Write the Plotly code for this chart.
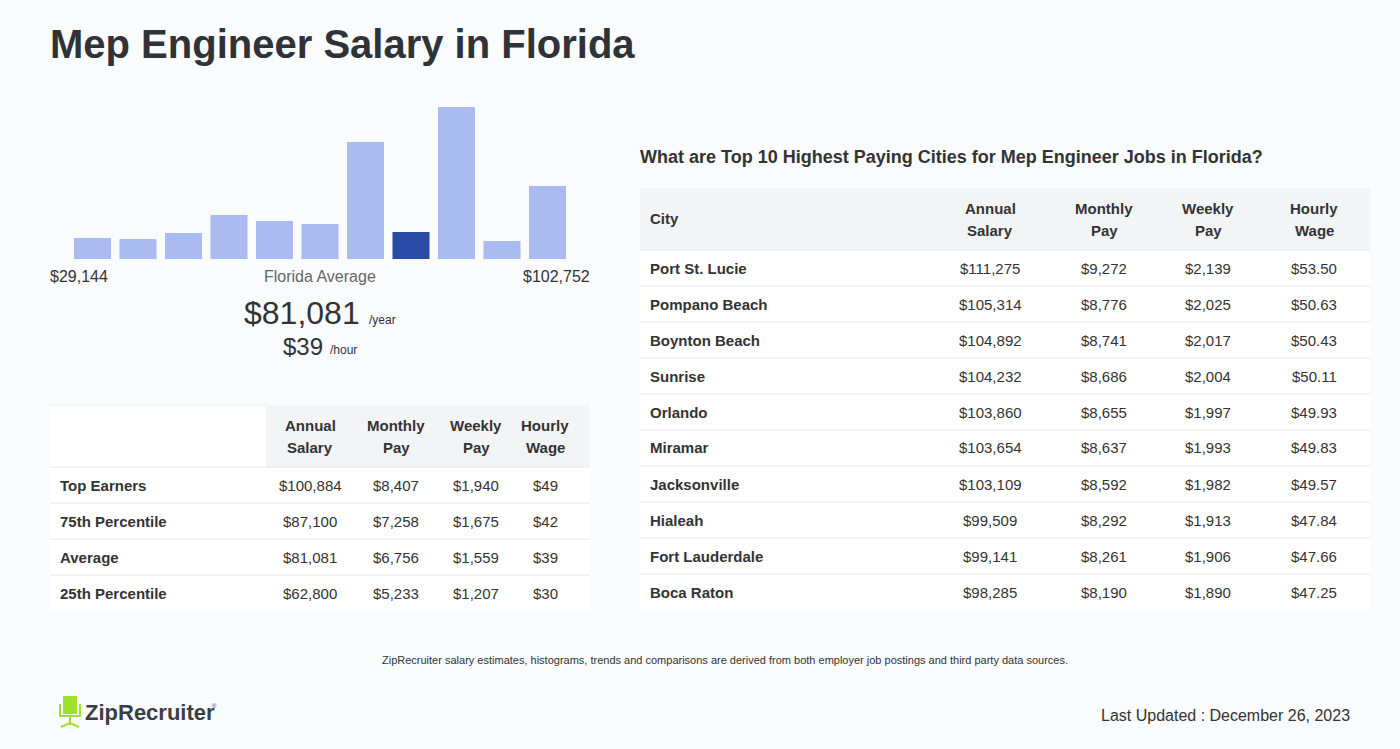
import plotly.graph_objects as go

W, H = 1400, 749
FONT = "Liberation Sans, Arial, Helvetica, sans-serif"
DARK = "#2f3337"
BG = "#f9fbfd"

title = "Mep Engineer Salary in Florida"

# histogram (relative bar heights)
hist_bins = list(range(11))
hist_heights = [21, 20, 26, 44, 38, 35, 117, 27, 152, 18, 73]
highlight_bin = 7
hist_min_label = "$29,144"
hist_max_label = "$102,752"
avg_label = "Florida Average"
avg_year = "$81,081"
avg_hour = "$39"

# left table
left_cols = ["Annual<br>Salary", "Monthly<br>Pay", "Weekly<br>Pay", "Hourly<br>Wage"]
left_rows = ["Top Earners", "75th Percentile", "Average", "25th Percentile"]
left_annual = ["$100,884", "$87,100", "$81,081", "$62,800"]
left_monthly = ["$8,407", "$7,258", "$6,756", "$5,233"]
left_weekly = ["$1,940", "$1,675", "$1,559", "$1,207"]
left_hourly = ["$49", "$42", "$39", "$30"]

# right table
right_title = "What are Top 10 Highest Paying Cities for Mep Engineer Jobs in Florida?"
right_cols = ["City", "Annual<br>Salary", "Monthly<br>Pay", "Weekly<br>Pay", "Hourly<br>Wage"]
cities = ["Port St. Lucie", "Pompano Beach", "Boynton Beach", "Sunrise", "Orlando",
          "Miramar", "Jacksonville", "Hialeah", "Fort Lauderdale", "Boca Raton"]
city_annual = ["$111,275", "$105,314", "$104,892", "$104,232", "$103,860",
               "$103,654", "$103,109", "$99,509", "$99,141", "$98,285"]
city_monthly = ["$9,272", "$8,776", "$8,741", "$8,686", "$8,655",
                "$8,637", "$8,592", "$8,292", "$8,261", "$8,190"]
city_weekly = ["$2,139", "$2,025", "$2,017", "$2,004", "$1,997",
               "$1,993", "$1,982", "$1,913", "$1,906", "$1,890"]
city_hourly = ["$53.50", "$50.63", "$50.43", "$50.11", "$49.93",
               "$49.83", "$49.57", "$47.84", "$47.66", "$47.25"]

footnote = "ZipRecruiter salary estimates, histograms, trends and comparisons are derived from both employer job postings and third party data sources."
updated = "Last Updated : December 26, 2023"
brand = "ZipRecruiter"


def px(x):
    return x / W


def py(y):
    return 1 - y / H


fig = go.Figure()
colors = ["#2a4aa6" if i == highlight_bin else "#aabbf1" for i in hist_bins]
fig.add_trace(go.Bar(x=hist_bins, y=hist_heights, marker=dict(color=colors, line=dict(width=0)),
                     hoverinfo="skip", showlegend=False))

shapes = []
ann = []


def text(x, y, s, size, color=DARK, bold=False, xanchor="left", yanchor="middle"):
    if bold:
        s = "<b>" + s + "</b>"
    ann.append(dict(x=px(x), y=py(y), xref="paper", yref="paper", text=s, showarrow=False,
                    xanchor=xanchor, yanchor=yanchor, align="center",
                    borderpad=0, borderwidth=0,
                    font=dict(family=FONT, size=size, color=color)))


def header(x, yc, s, size=15):
    lines = s.split("<br>")
    n = len(lines)
    for k, ln in enumerate(lines):
        text(x, yc + 22 * (k - (n - 1) / 2), ln, size, "#333", bold=True, xanchor="center")


def rect(x0, y0, x1, y1, fill, line=None):
    shapes.append(dict(type="rect", xref="paper", yref="paper", x0=px(x0), x1=px(x1),
                       y0=py(y1), y1=py(y0), fillcolor=fill,
                       line=dict(width=0) if line is None else line, layer="below"))


def hline(x0, x1, y, color="#e3e6ea"):
    shapes.append(dict(type="line", xref="paper", yref="paper", x0=px(x0), x1=px(x1),
                       y0=py(y), y1=py(y), line=dict(color=color, width=1), layer="above"))


# title
text(50, 44, title, 40, DARK, bold=True)

# histogram labels
text(50, 276, hist_min_label, 16, "#333")
text(320, 276, avg_label, 16, "#666", xanchor="center")
text(590, 276, hist_max_label, 16, "#333", xanchor="right")
text(360, 313, avg_year, 32, "#333", xanchor="right")
text(369, 320, "/year", 12, "#333")
text(323, 346, avg_hour, 24, "#333", xanchor="right")
text(330, 350, "/hour", 12, "#333")

# left table
HEAD_GRAY = "#f3f4f6"
rect(50, 405, 590, 611, "white")
rect(266, 405, 590, 467, HEAD_GRAY)
hline(50, 266, 405, "#eceef1")
left_centers = [310, 396, 476, 545]
for c, lab in zip(left_centers, left_cols):
    header(c, 436, lab)
hline(50, 590, 467)
left_vals = [left_annual, left_monthly, left_weekly, left_hourly]
for i, r in enumerate(left_rows):
    yc = 485 + 36 * i
    text(60, yc, r, 15, "#333", bold=True)
    for c, col in zip(left_centers, left_vals):
        text(c, yc, col[i], 15, "#333", xanchor="center")
    if i < len(left_rows) - 1:
        hline(50, 590, 503 + 36 * i)

# right table
text(640, 157, right_title, 18, "#333", bold=True)
rect(640, 188, 1370, 610, "white")
rect(640, 188, 1370, 250, HEAD_GRAY)
hline(640, 1370, 250)
right_centers = [990, 1104, 1208, 1314]
text(650, 219, right_cols[0], 15, "#333", bold=True)
for c, lab in zip(right_centers, right_cols[1:]):
    header(c, 219, lab)
right_vals = [city_annual, city_monthly, city_weekly, city_hourly]
for i, city in enumerate(cities):
    yc = 268 + 36 * i
    text(650, yc, city, 15, "#333", bold=True)
    for c, col in zip(right_centers, right_vals):
        text(c, yc, col[i], 15, "#333", xanchor="center")
    if i < len(cities) - 1:
        hline(640, 1370, 286 + 36 * i)

# footer
text(725, 660, footnote, 11, "#333", xanchor="center")
text(1350, 715, updated, 16, "#333", xanchor="right")

# logo
GREEN = "#9ee22d"
rect(63, 696, 77, 714, GREEN)
shapes.append(dict(type="path", xref="paper", yref="paper", layer="above",
                   path=f"M {px(60)},{py(704)} L {px(60)},{py(716)} L {px(80)},{py(716)} L {px(80)},{py(704)}",
                   line=dict(color=GREEN, width=2)))
shapes.append(dict(type="path", xref="paper", yref="paper", layer="above",
                   path=f"M {px(70)},{py(716)} L {px(70)},{py(725)} M {px(61)},{py(727)} L {px(70)},{py(723)} L {px(79)},{py(727)}",
                   line=dict(color=GREEN, width=2)))
text(85, 712, brand, 22, "#3a3f44", bold=True)
ann.append(dict(x=px(212), y=py(706), xref="paper", yref="paper", text="®", showarrow=False,
                borderpad=0, borderwidth=0,
                font=dict(family=FONT, size=6, color="#3a3f44"), xanchor="left", yanchor="middle"))

fig.update_layout(
    width=W, height=H, margin=dict(l=0, r=0, t=0, b=0),
    paper_bgcolor=BG, plot_bgcolor="rgba(0,0,0,0)",
    bargap=0.187,
    xaxis=dict(domain=[px(69.75), px(570.25)], range=[-0.5, 10.5], visible=False, fixedrange=True),
    yaxis=dict(domain=[py(259), py(107)], range=[0, max(hist_heights)], visible=False, fixedrange=True),
    shapes=shapes, annotations=ann, showlegend=False,
)

fig.write_html("out.html", config={"displayModeBar": False},
               post_script="document.body.style.margin='0';")
